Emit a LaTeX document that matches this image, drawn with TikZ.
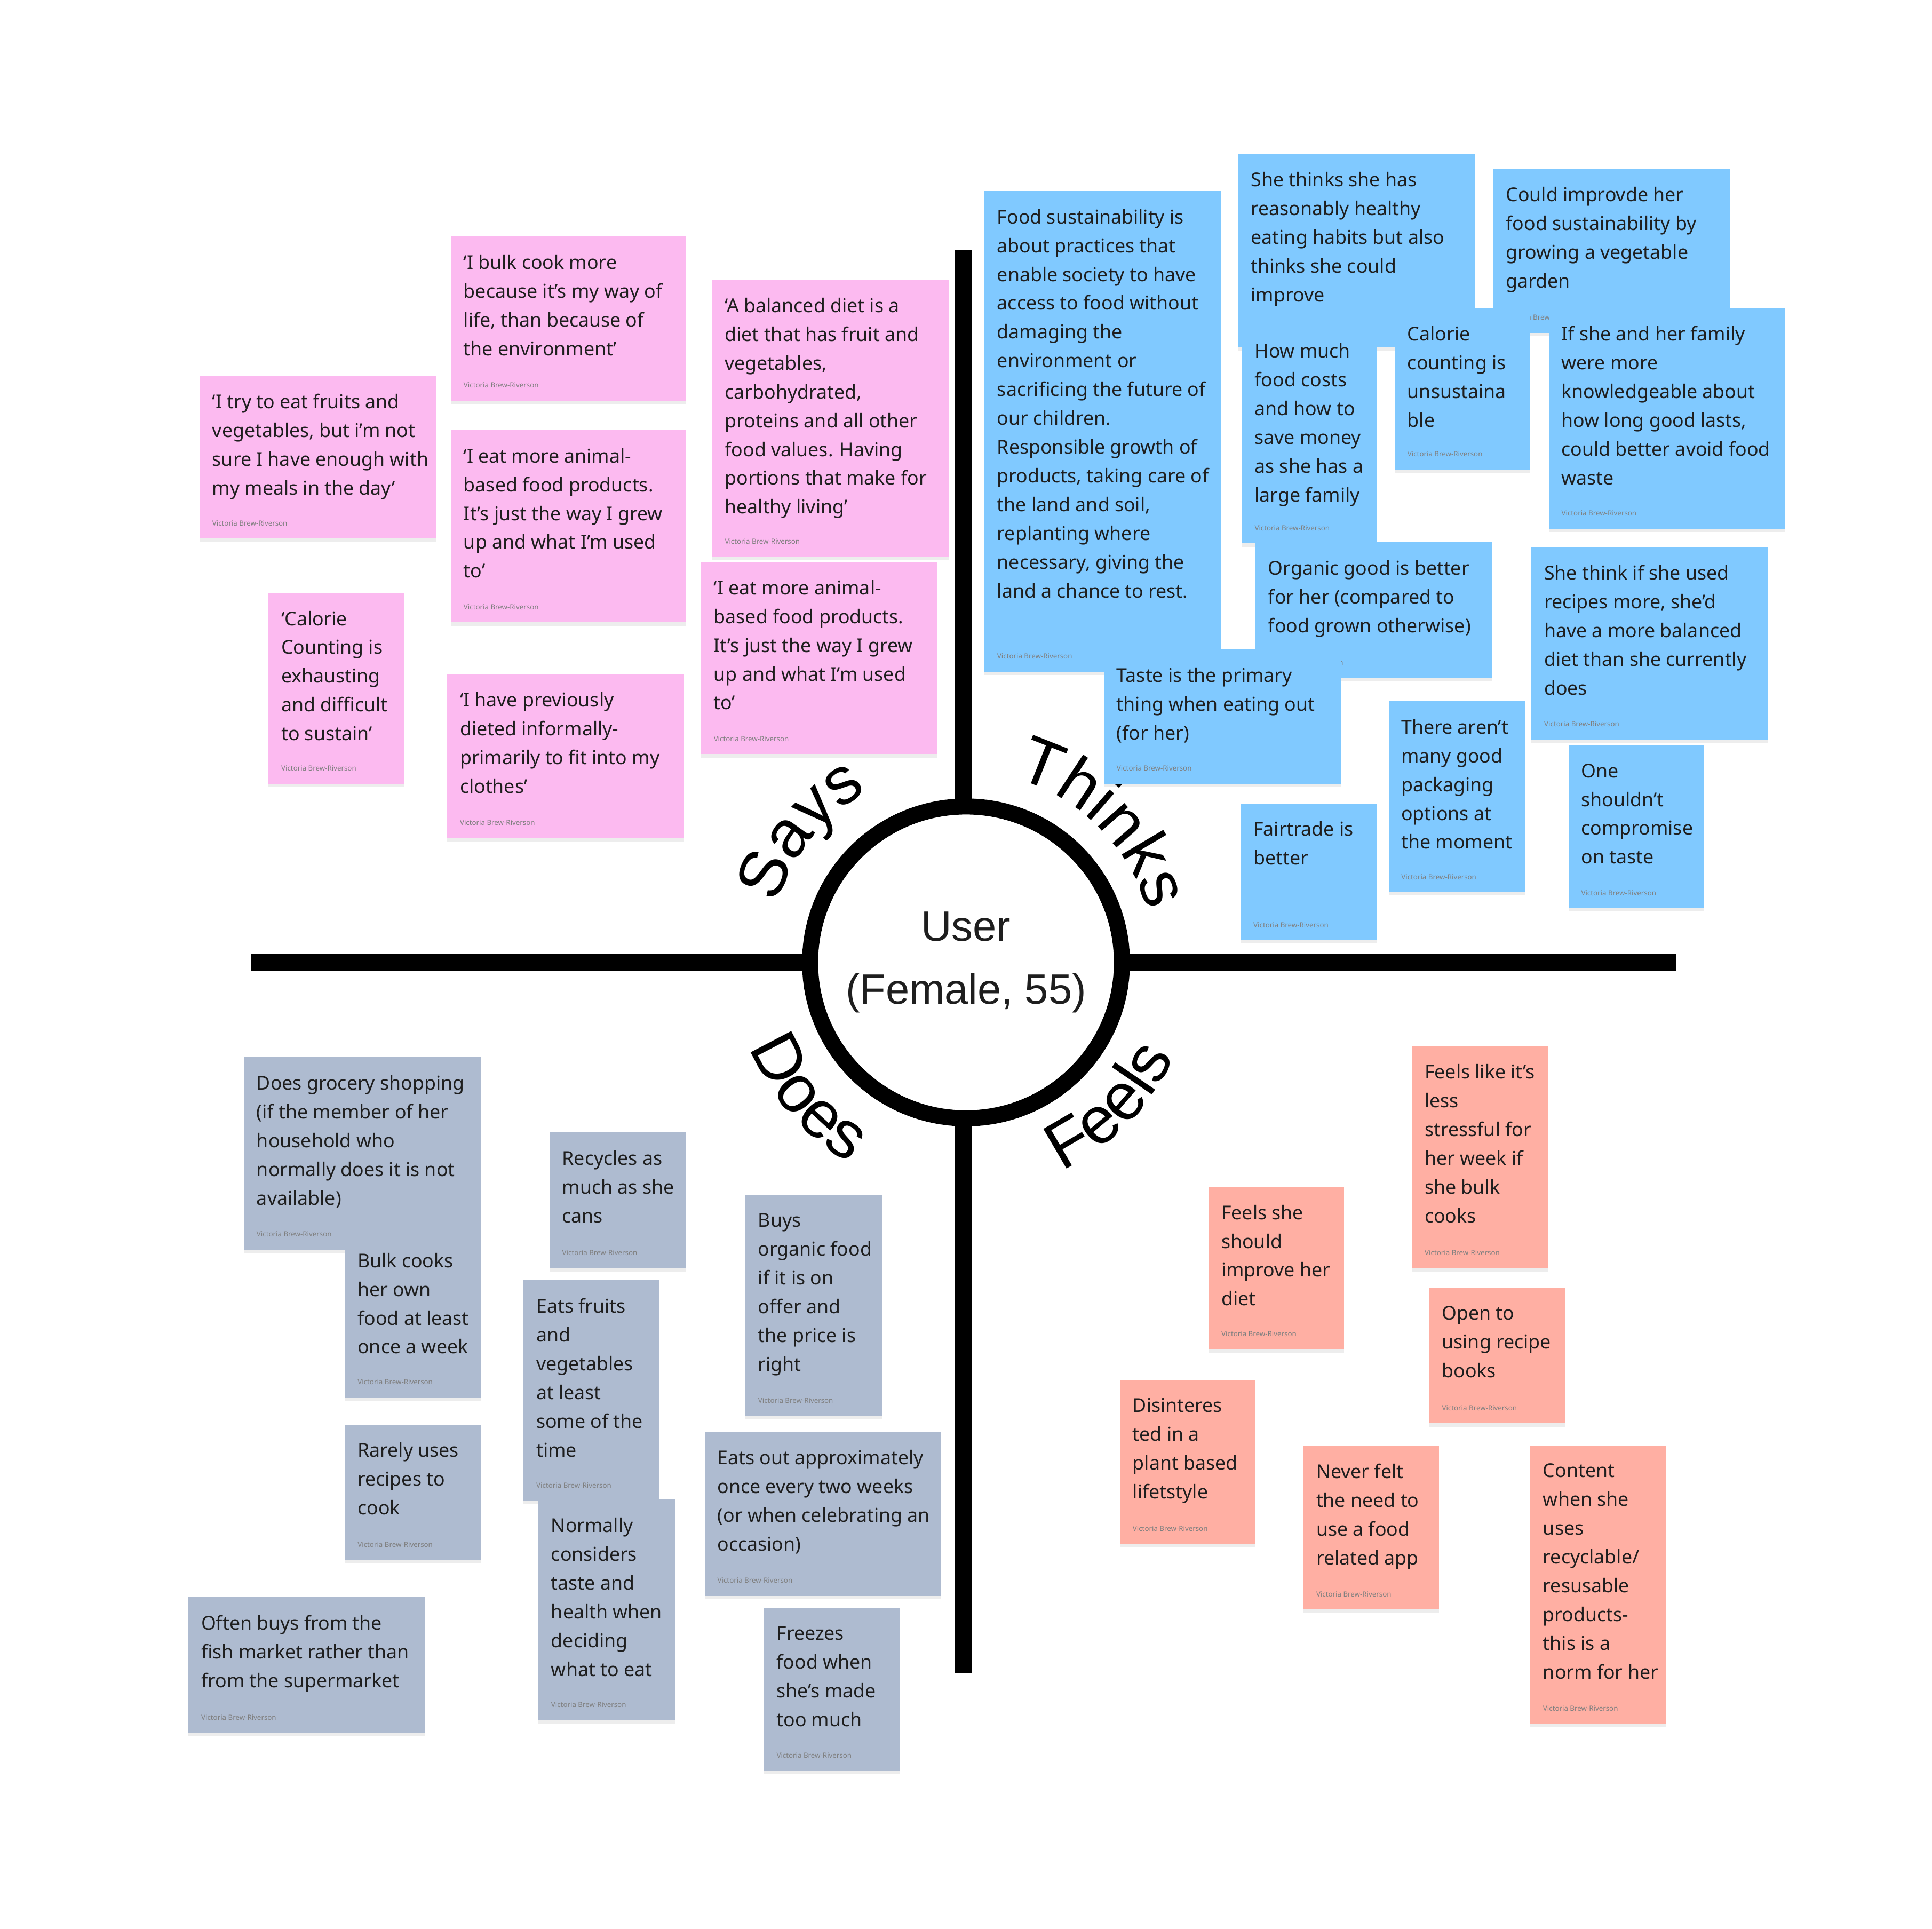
\documentclass[tikz,border=0pt]{standalone}
\usepackage{fontspec}
\setmainfont{Noto Sans}
\newfontfamily\headfont{Liberation Sans}
\usetikzlibrary{positioning, decorations.text, shadows}

\definecolor{saypink}{HTML}{FCBAF0}
\definecolor{thinkblue}{HTML}{80C9FF}
\definecolor{doesgrey}{HTML}{AEBBD0}
\definecolor{feelred}{HTML}{FFAFA3}
\definecolor{inkdark}{HTML}{1E1E1E}

\newcommand{\quadfont}{\headfont\fontsize{38.5}{44}\selectfont}
\newcommand{\stickynote}[7]{%
  \node[note, fill=#2, minimum width=#5*0.025cm, minimum height=#6*0.025cm] (#1) at (#3,-#4) {};
  \node[notetext, below right=0.3625cm and 0.25cm of #1.north west] (#1-txt) {#7};
  \node[byline, above right=0.25cm and 0.25cm of #1.south west] (#1-by) {Victoria Brew-Riverson};
}

\begin{document}
\begin{tikzpicture}[
        x=0.025cm, y=0.025cm,
        note/.style={rectangle, draw=none, inner sep=0pt, outer sep=0pt, anchor=north west,
            drop shadow={shadow xshift=0pt, shadow yshift=-0.07cm, opacity=0.07, fill=black}},
        notetext/.style={inner sep=0pt, align=left, text=inkdark, font=\fontsize{11}{16.6}\selectfont},
        byline/.style={inner sep=0pt, text=black!50, font=\fontsize{4.1}{5}\selectfont},
        axis/.style={line width=9.5pt, draw=black},
        hub/.style={circle, draw=black, fill=white, line width=9.25pt, minimum size=6.325cm, align=center, text=inkdark, font=\headfont\fontsize{24.5}{36.3}\selectfont},
        quadrant/.style={decorate, decoration={text along path, text align=center, text={|\quadfont|#1}}}
    ]
    \useasboundingbox (0,0) rectangle (1568,-1565);

    % cross and centre
    \coordinate (ctr) at (782,-781);
    \coordinate (n) at (782,-203);
    \coordinate (s) at (782,-1358);
    \coordinate (w) at (204,-781);
    \coordinate (e) at (1360,-781);
    \draw[axis] (n) -- (s);
    \draw[axis] (w) -- (e);
    \node[hub] (user) at ([xshift=0.05cm]ctr) {User\\(Female, 55)};

    \path[quadrant=Says] (ctr) ++(173:159) arc[start angle=173, end angle=109, radius=159];
    \path[quadrant=Thinks] (ctr) ++(83:155) arc[start angle=83, end angle=7, radius=155];
    \path[quadrant=Does] (ctr) ++(186:187) arc[start angle=186, end angle=256, radius=187];
    \path[quadrant=Feels] (ctr) ++(281:187) arc[start angle=281, end angle=350, radius=187];

    % says
    \stickynote{s1}{saypink}{366}{192}{191}{133}{‘I bulk cook more\\because it’s my way of\\life, than because of\\the environment’}
    \stickynote{s2}{saypink}{162}{305}{192}{132}{‘I try to eat fruits and\\vegetables, but i’m not\\sure I have enough with\\my meals in the day’}
    \stickynote{s3}{saypink}{366}{349}{191}{156}{‘I eat more animal-\\based food products.\\It’s just the way I grew\\up and what I’m used\\to’}
    \stickynote{s4}{saypink}{578}{227}{192}{225}{‘A balanced diet is a\\diet that has fruit and\\vegetables,\\carbohydrated,\\proteins and all other\\food values. Having\\portions that make for\\healthy living’}
    \stickynote{s5}{saypink}{218}{481}{110}{155}{‘Calorie\\Counting is\\exhausting\\and difficult\\to sustain’}
    \stickynote{s6}{saypink}{569}{456}{192}{156}{‘I eat more animal-\\based food products.\\It’s just the way I grew\\up and what I’m used\\to’}
    \stickynote{s7}{saypink}{363}{547}{192}{133}{‘I have previously\\dieted informally-\\primarily to fit into my\\clothes’}

    % thinks
    \stickynote{t1}{thinkblue}{799}{155}{192}{390}{Food sustainability is\\about practices that\\enable society to have\\access to food without\\damaging the\\environment or\\sacrificing the future of\\our children.\\Responsible growth of\\products, taking care of\\the land and soil,\\replanting where\\necessary, giving the\\land a chance to rest.}
    \stickynote{t2}{thinkblue}{1005}{125}{192}{157}{She thinks she has\\reasonably healthy\\eating habits but also\\thinks she could\\improve}
    \stickynote{t3}{thinkblue}{1212}{137}{192}{133}{Could improvde her\\food sustainability by\\growing a vegetable\\garden}
    \stickynote{t4}{thinkblue}{1008}{264}{109}{177}{How much\\food costs\\and how to\\save money\\as she has a\\large family}
    \stickynote{t5}{thinkblue}{1132}{250}{110}{131}{Calorie\\counting is\\unsustaina\\ble}
    \stickynote{t6}{thinkblue}{1257}{250}{192}{179}{If she and her family\\were more\\knowledgeable about\\how long good lasts,\\could better avoid food\\waste}
    \stickynote{t7}{thinkblue}{1019}{440}{192}{110}{Organic good is better\\for her (compared to\\food grown otherwise)}
    \stickynote{t8}{thinkblue}{896}{527}{192}{109}{Taste is the primary\\thing when eating out\\(for her)}
    \stickynote{t9}{thinkblue}{1243}{444}{192}{156}{She think if she used\\recipes more, she’d\\have a more balanced\\diet than she currently\\does}
    \stickynote{t10}{thinkblue}{1127}{569}{111}{155}{There aren’t\\many good\\packaging\\options at\\the moment}
    \stickynote{t11}{thinkblue}{1007}{652}{110}{111}{Fairtrade is\\better}
    \stickynote{t12}{thinkblue}{1273}{605}{110}{132}{One\\shouldn’t\\compromise\\on taste}

    % does
    \stickynote{d1}{doesgrey}{198}{858}{192}{156}{Does grocery shopping\\(if the member of her\\household who\\normally does it is not\\available)}
    \stickynote{d2}{doesgrey}{280}{1002}{110}{132}{Bulk cooks\\her own\\food at least\\once a week}
    \stickynote{d3}{doesgrey}{280}{1156}{110}{110}{Rarely uses\\recipes to\\cook}
    \stickynote{d4}{doesgrey}{153}{1296}{192}{110}{Often buys from the\\fish market rather than\\from the supermarket}
    \stickynote{d5}{doesgrey}{446}{919}{111}{110}{Recycles as\\much as she\\cans}
    \stickynote{d6}{doesgrey}{425}{1039}{110}{179}{Eats fruits\\and\\vegetables\\at least\\some of the\\time}
    \stickynote{d7}{doesgrey}{437}{1217}{111}{179}{Normally\\considers\\taste and\\health when\\deciding\\what to eat}
    \stickynote{d8}{doesgrey}{605}{970}{111}{179}{Buys\\organic food\\if it is on\\offer and\\the price is\\right}
    \stickynote{d9}{doesgrey}{572}{1162}{192}{133}{Eats out approximately\\once every two weeks\\(or when celebrating an\\occasion)}
    \stickynote{d10}{doesgrey}{620}{1305}{110}{132}{Freezes\\food when\\she’s made\\too much}

    % feels
    \stickynote{f1}{feelred}{1146}{849}{110}{180}{Feels like it’s\\less\\stressful for\\her week if\\she bulk\\cooks}
    \stickynote{f2}{feelred}{981}{963}{110}{132}{Feels she\\should\\improve her\\diet}
    \stickynote{f3}{feelred}{1160}{1045}{110}{110}{Open to\\using recipe\\books}
    \stickynote{f4}{feelred}{909}{1120}{110}{133}{Disinteres\\ted in a\\plant based\\lifetstyle}
    \stickynote{f5}{feelred}{1058}{1173}{110}{133}{Never felt\\the need to\\use a food\\related app}
    \stickynote{f6}{feelred}{1242}{1173}{110}{226}{Content\\when she\\uses\\recyclable/\\resusable\\products-\\this is a\\norm for her}
\end{tikzpicture}
\end{document}
